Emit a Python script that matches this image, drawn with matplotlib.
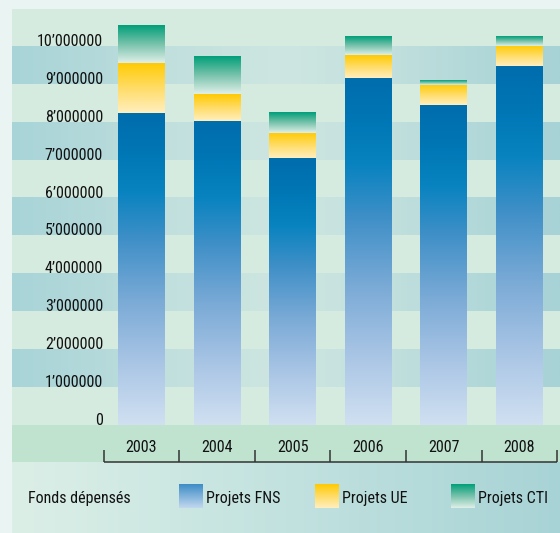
import numpy as np
import matplotlib
matplotlib.use('Agg')
import matplotlib.pyplot as plt
from matplotlib.colors import LinearSegmentedColormap

plt.rcParams['font.family'] = ['Roboto Condensed', 'DejaVu Sans']

# values in millions CHF
years = ['2003', '2004', '2005', '2006', '2007', '2008']
fns = [8.23, 8.02, 7.04, 9.16, 8.44, 9.47]
ue = [1.32, 0.71, 0.66, 0.60, 0.53, 0.53]
cti = [1.00, 0.98, 0.53, 0.48, 0.13, 0.24]
series_names = ['Projets FNS', 'Projets UE', 'Projets CTI']
legend_title = 'Fonds dépensés'
tick_vals = list(range(0, 11))
tick_labels = ['0'] + ['%d\u2019000000' % v for v in range(1, 11)]

cm_fns = LinearSegmentedColormap.from_list('fns', [
    (0.0, '#d0e0f1'), (0.2, '#a9c5e5'), (0.4, '#7aaad6'), (0.6, '#3e8fc7'),
    (0.75, '#0883c0'), (0.88, '#0076b5'), (1.0, '#006dad')])
cm_fns_key = LinearSegmentedColormap.from_list('fns_key', ['#c2d8ef', '#3d8cc6'])
cm_ue = LinearSegmentedColormap.from_list('ue', [
    (0.0, '#ffefc0'), (0.5, '#ffdc66'), (1.0, '#ffca00')])
cm_cti = LinearSegmentedColormap.from_list('cti', [
    (0.0, '#e0f0e9'), (0.5, '#78c2ab'), (1.0, '#009f79')])
cm_band = LinearSegmentedColormap.from_list('band', [
    (0.0, '#a8d4d8'), (0.15, '#b4d9da'), (0.3, '#c2e0de'), (0.5, '#cee6e1'),
    (0.7, '#c0dfdd'), (0.85, '#b2d8d9'), (1.0, '#a7d2d6')])
cm_foot = LinearSegmentedColormap.from_list('foot', ['#dcefe7', '#c2e2df', '#a8d3d6'])

vgrad = np.linspace(0, 1, 256).reshape(-1, 1)
hgrad = np.linspace(0, 1, 256).reshape(1, -1)

fig = plt.figure(figsize=(5.6, 5.33), dpi=100)
fig.patch.set_facecolor('#eaf4f2')
ax = fig.add_axes([12 / 560, 0, 548 / 560, 524 / 533])
ax.set_facecolor('#d5ebe0')
x0, x1 = -1.713, 5.536
y0, y1 = -2.85, 10.976
for s in ax.spines.values():
    s.set_visible(False)
ax.set_xticks([])
ax.set_yticks([])

# horizontal bands
for k in range(1, 10, 2):
    ax.imshow(hgrad, cmap=cm_band, extent=(x0, x1, k, k + 1), aspect='auto', zorder=0)
ax.axhspan(-1.0, 0, color='#c0e3d0', zorder=0, lw=0)
ax.imshow(hgrad, cmap=cm_foot, extent=(x0, x1, y0, -1.0), aspect='auto', zorder=0)

# stacked bars with vertical gradients
x = np.arange(len(years))
w = 0.62
bottom = np.zeros(len(years))
for vals, cm in [(fns, cm_fns), (ue, cm_ue), (cti, cm_cti)]:
    bars = ax.bar(x, vals, w, bottom=bottom, color='none', edgecolor='none', zorder=2)
    for b in bars:
        bx, by = b.get_xy()
        ax.imshow(vgrad, cmap=cm, origin='lower', aspect='auto', zorder=3,
                  extent=(bx, bx + b.get_width(), by, by + b.get_height()))
    bottom += np.array(vals)

# y labels
for v, lab in zip(tick_vals, tick_labels):
    ax.text(-0.509, v, lab, ha='right', va='baseline', fontsize=11.5, color='#111111')

# year axis
ax.hlines(-0.976, -0.5, 5.5, color='#333333', lw=1.1, zorder=4)
ax.vlines(np.arange(-0.5, 6), -0.976, -0.66, color='#333333', lw=1.1, zorder=4)
for i, yr in enumerate(years):
    ax.text(i, -0.6, yr, ha='center', va='center', fontsize=11.5, color='#111111')

# legend
ax.text(-1.501, -1.93, legend_title, ha='left', va='center', fontsize=11.5, color='#111111')
for sx, name, cm in zip([0.496, 2.295, 4.094], series_names, [cm_fns_key, cm_ue, cm_cti]):
    ax.imshow(vgrad, cmap=cm, origin='lower', aspect='auto', zorder=3,
              extent=(sx, sx + 0.317, -2.19, -1.58))
    ax.text(sx + 0.36, -1.93, name, ha='left', va='center', fontsize=11.5, color='#111111')
ax.set_xlim(x0, x1)
ax.set_ylim(y0, y1)

fig.savefig('out.png', dpi=100, facecolor=fig.get_facecolor())
